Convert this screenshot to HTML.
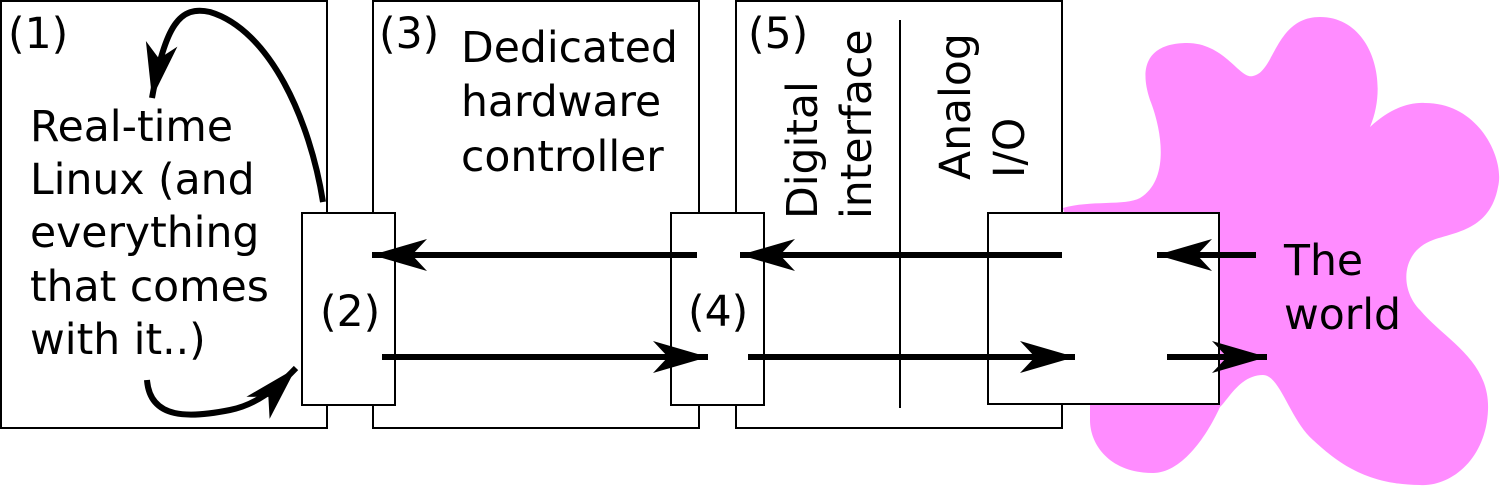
<!DOCTYPE html>
<html><head><meta charset="utf-8"><style>
html,body{margin:0;padding:0;background:#fff;}
svg{display:block;}
text{font-family:"DejaVu Sans","Liberation Sans",sans-serif;font-size:42.5px;fill:#000;}
</style></head><body>
<svg width="1500" height="487" viewBox="0 0 1500 487" xmlns="http://www.w3.org/2000/svg">
<defs>
<marker id="ah" viewBox="-60 -20 64 40" refX="0" refY="0" markerWidth="64" markerHeight="40" markerUnits="userSpaceOnUse" orient="auto">
<path d="M0,0 L-55,-16 L-40,0 L-55,16 Z" fill="#000"/>
</marker>
</defs>
<path d="M1063,208 C1090,200 1125,206 1140,198 C1170,180 1162,130 1150,100 C1135,55 1160,43 1187,43 C1225,43 1240,80 1253,76 C1275,72 1275,17 1320,17 C1370,17 1390,80 1370,127 C1390,108 1410,102 1425,103 C1480,103 1505,160 1498,187 C1490,230 1455,232 1433,240 C1400,252 1400,290 1420,310 C1445,340 1490,360 1488,410 C1486,460 1450,487 1420,485 C1360,485 1330,455 1313,440 C1290,420 1280,375 1263,375 C1240,375 1228,400 1220,407 C1205,440 1180,473 1153,473 C1110,473 1090,445 1090,420 L1090,300 L1063,208 Z" fill="#ff8cff"/>
<g fill="#fff" stroke="#000" stroke-width="2">
<rect x="1" y="1" width="326" height="427"/>
<rect x="373" y="1" width="326" height="427"/>
<rect x="736" y="1" width="326" height="427"/>
<rect x="302" y="213" width="93" height="192"/>
<rect x="671" y="213" width="93" height="192"/>
<rect x="988" y="213" width="231" height="191"/>
</g>
<line x1="900" y1="20" x2="900" y2="408" stroke="#000" stroke-width="2"/>
<g stroke="#000" stroke-width="6" fill="none" marker-end="url(#ah)">
<line x1="697" y1="255" x2="372" y2="255"/>
<line x1="1062" y1="255" x2="740" y2="255"/>
<line x1="1256" y1="255" x2="1157" y2="255"/>
<line x1="382" y1="357" x2="708" y2="357"/>
<line x1="748" y1="357" x2="1075" y2="357"/>
<line x1="1167" y1="357" x2="1267" y2="357"/>
<path d="M323,202 C310,120 270,30 210,12 C180,5 165,25 152,98"/>
<path d="M147,380 C150,420 190,418 230,410 C255,405 275,390 296,368"/>
</g>
<text x="8" y="48">(1)</text>
<text x="379" y="48">(3)</text>
<text x="748" y="48">(5)</text>
<text x="320" y="326">(2)</text>
<text x="688" y="326">(4)</text>
<text x="30" y="141">Real-time</text>
<text x="30" y="194">Linux (and</text>
<text x="30" y="247">everything</text>
<text x="30" y="301">that comes</text>
<text x="30" y="354">with it..)</text>
<text x="461" y="62">Dedicated</text>
<text x="461" y="116">hardware</text>
<text x="461" y="171">controller</text>
<text x="1284" y="275">The</text>
<text x="1284" y="329">world</text>
<text transform="translate(817,219) rotate(-90)">Digital</text>
<text transform="translate(871,219) rotate(-90)">interface</text>
<text transform="translate(970,180) rotate(-90)">Analog</text>
<text transform="translate(1024,178) rotate(-90)">I/O</text>
</svg>
</body></html>
